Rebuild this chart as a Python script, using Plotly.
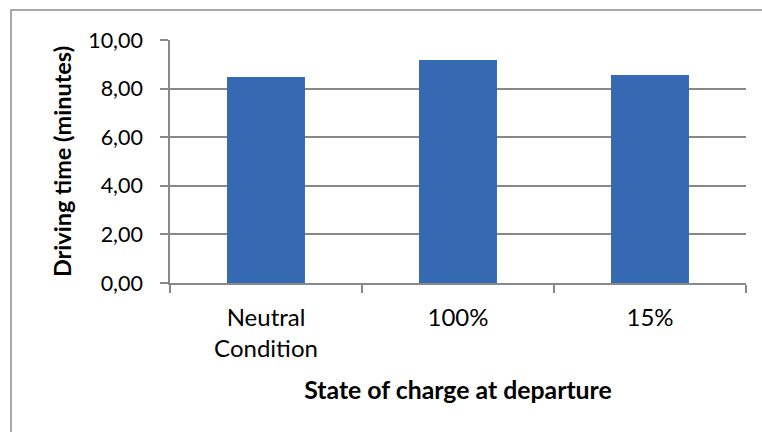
import plotly.graph_objects as go

categories = ["Neutral<br>Condition", "100%", "15%"]
driving_time = [8.48, 9.18, 8.56]
y_ticks = [0, 2, 4, 6, 8, 10]
y_tick_labels = ["0,00", "2,00", "4,00", "6,00", "8,00", "10,00"]

FONT = "Lato, Carlito, Calibri, sans-serif"

fig = go.Figure()
fig.add_trace(go.Bar(
    x=categories,
    y=driving_time,
    width=0.406,
    marker=dict(color="#3569B2", line=dict(width=0)),
))

fig.update_layout(
    width=762, height=432,
    margin=dict(l=170, r=16, t=40, b=149, autoexpand=False),
    paper_bgcolor="white", plot_bgcolor="white",
    font=dict(family=FONT, size=21, color="black"),
    showlegend=False,
    bargap=0.594,
)
fig.update_xaxes(
    automargin=False,
    showline=True, linecolor="#888888", linewidth=1.5,
    ticks="outside", tickson="boundaries", ticklen=8, tickcolor="#888888", tickwidth=1.5,
    tickfont=dict(size=24), ticklabelstandoff=12,
    title=dict(text="<b>State of charge at departure</b>", font=dict(size=24.8), standoff=21),
)
fig.update_yaxes(
    automargin=False,
    range=[0, 10], tickvals=y_ticks, ticktext=y_tick_labels,
    showline=True, linecolor="#888888", linewidth=1.5,
    showgrid=True, gridcolor="#888888", gridwidth=1.5,
    ticks="outside", ticklen=8, tickcolor="#888888", tickwidth=1.5,
    tickfont=dict(size=21.5), ticklabelstandoff=13,
    title=dict(text="<b>Driving time (minutes)</b>", font=dict(size=23.5), standoff=10),
    zeroline=False,
)
fig.add_shape(type="rect", xref="paper", yref="paper",
              x0=(11 - 170) / 576, x1=1.2, y0=-1, y1=(283 - 10) / 243,
              line=dict(color="#8C8C8C", width=1.5), fillcolor="rgba(0,0,0,0)", layer="below")

fig.write_html("out.html", config={"displayModeBar": False},
               post_script="document.body.style.margin='0px';document.body.style.overflow='hidden';")
